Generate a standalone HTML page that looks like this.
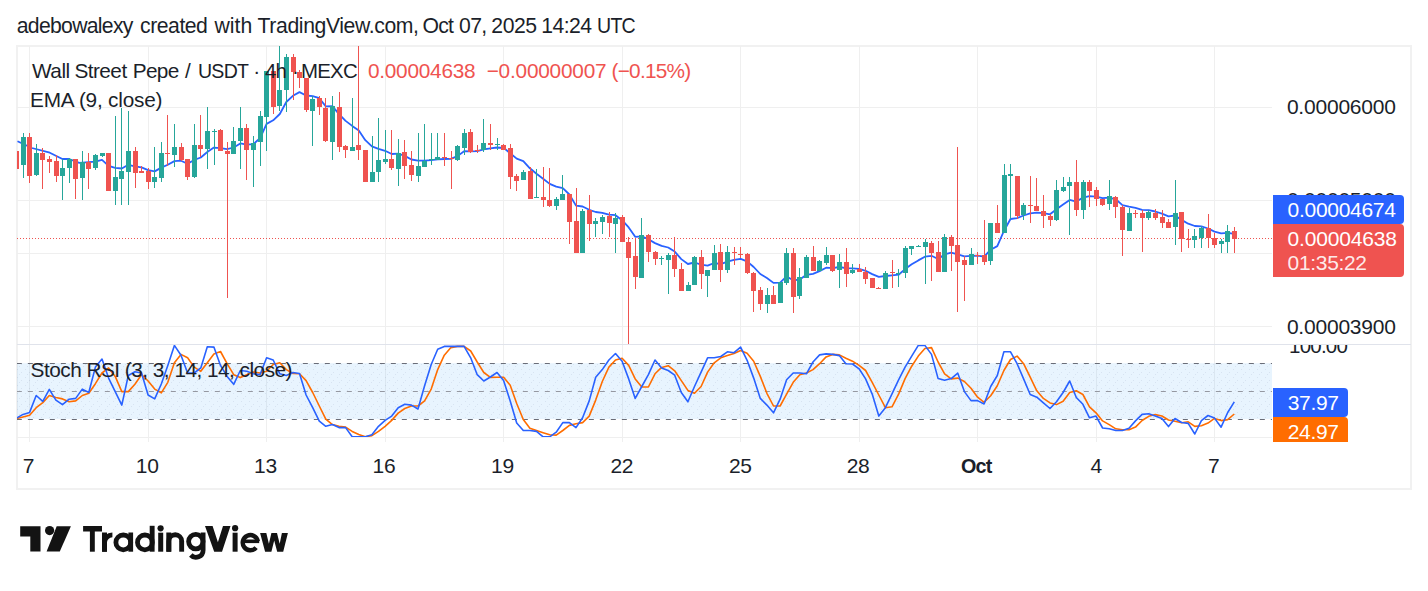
<!DOCTYPE html>
<html><head><meta charset="utf-8"><style>
*{margin:0;padding:0;box-sizing:border-box}
html,body{width:1428px;height:591px;overflow:hidden;background:#fff}
body{position:relative;font-family:"Liberation Sans",sans-serif;color:#1b1f2a}
.t{position:absolute;white-space:nowrap;line-height:1}
#frame{position:absolute;left:16px;top:45px;width:1396px;height:445px;border:2px solid #f1f1f1}
svg{position:absolute;left:0;top:0}
.pl{font-size:21px;left:1287.2px;letter-spacing:-0.2px}
.lab{position:absolute;left:1273px;width:131px;border-radius:0 4px 4px 0}
.tl{font-size:21px;top:454.7px;letter-spacing:-0.3px}
</style></head><body>
<div class="t" style="left:16.80px;top:15.05px;font-size:21.2px;letter-spacing:-0.710px">adebowalexy</div><div class="t" style="left:140.10px;top:15.05px;font-size:21.2px;letter-spacing:-0.483px">created</div><div class="t" style="left:214.40px;top:15.05px;font-size:21.2px;letter-spacing:0.067px">with</div><div class="t" style="left:257.60px;top:15.05px;font-size:21.2px;letter-spacing:-0.387px">TradingView.com,</div><div class="t" style="left:422.50px;top:15.05px;font-size:21.2px;letter-spacing:-0.750px">Oct</div><div class="t" style="left:459.00px;top:15.05px;font-size:21.2px;letter-spacing:-0.600px">07,</div><div class="t" style="left:491.30px;top:15.05px;font-size:21.2px;letter-spacing:-0.433px">2025</div><div class="t" style="left:541.30px;top:15.05px;font-size:21.2px;letter-spacing:-0.575px">14:24</div><div class="t" style="left:597.45px;top:15.05px;font-size:21.2px;letter-spacing:-0.800px;transform:scaleX(0.9239);transform-origin:0 0">UTC</div>
<div id="frame"></div>
<svg width="1428" height="591" viewBox="0 0 1428 591"><defs><clipPath id="cp"><rect x="17" y="46" width="1255" height="298.5"/></clipPath><clipPath id="cs"><rect x="17" y="344.5" width="1255" height="93"/></clipPath><pattern id="dots" width="8" height="8" patternUnits="userSpaceOnUse"><rect width="8" height="8" fill="rgba(33,150,243,0.1)"/><rect x="1" y="1" width="1" height="1" fill="rgba(90,110,150,0.12)"/><rect x="5" y="4" width="1" height="1" fill="rgba(90,110,150,0.12)"/><rect x="3" y="6" width="1" height="1" fill="rgba(90,110,150,0.12)"/></pattern></defs><rect x="17" y="107" width="1255" height="1" fill="#efefef"/><rect x="17" y="200" width="1255" height="1" fill="#efefef"/><rect x="17" y="253" width="1255" height="1" fill="#efefef"/><rect x="17" y="326" width="1255" height="1" fill="#efefef"/><rect x="29" y="46" width="1" height="392" fill="#efefef"/><rect x="148" y="46" width="1" height="392" fill="#efefef"/><rect x="266" y="46" width="1" height="392" fill="#efefef"/><rect x="385" y="46" width="1" height="392" fill="#efefef"/><rect x="503" y="46" width="1" height="392" fill="#efefef"/><rect x="622" y="46" width="1" height="392" fill="#efefef"/><rect x="740" y="46" width="1" height="392" fill="#efefef"/><rect x="859" y="46" width="1" height="392" fill="#efefef"/><rect x="977" y="46" width="1" height="392" fill="#efefef"/><rect x="1096" y="46" width="1" height="392" fill="#efefef"/><rect x="1214" y="46" width="1" height="392" fill="#efefef"/><rect x="17" y="363.2" width="1255" height="55.8" fill="url(#dots)"/><g clip-path="url(#cp)"><line x1="17" y1="238.5" x2="1272" y2="238.5" stroke="#ef5350" stroke-width="1" stroke-dasharray="1 2"/><path d="M17.5 141.3 L31.9 148.0 L48.8 152.3 L62.4 159.0 L69.1 159.0 L79.3 162.8 L95.4 161.6 L102.0 159.8 L108.6 165.8 L115.2 167.9 L121.8 168.5 L128.3 164.8 L134.9 166.3 L141.5 167.4 L148.1 170.1 L154.7 171.4 L161.3 167.6 L167.8 164.7 L174.4 161.1 L181.0 160.7 L187.6 163.8 L194.2 159.9 L200.8 157.5 L207.3 152.0 L213.9 147.6 L220.5 148.1 L227.1 149.2 L233.7 147.5 L240.3 143.4 L246.8 144.6 L253.4 144.1 L260.0 138.3 L266.6 123.9 L273.2 120.3 L279.8 114.0 L286.3 102.0 L292.9 95.8 L299.5 92.1 L306.1 95.5 L312.7 96.1 L319.3 98.2 L325.8 106.4 L332.4 106.2 L339.0 114.1 L345.6 120.9 L352.2 125.9 L358.8 130.4 L365.3 140.2 L371.9 146.3 L378.5 148.9 L385.1 150.8 L391.7 154.0 L398.2 153.7 L404.8 155.9 L411.4 159.5 L418.0 160.7 L424.6 160.6 L431.2 160.2 L437.7 159.4 L444.3 159.0 L450.9 158.9 L457.5 156.1 L464.1 151.2 L470.7 151.3 L477.2 151.2 L483.8 149.4 L490.4 148.4 L497.0 147.5 L503.6 147.8 L510.2 153.3 L516.7 158.6 L523.3 161.1 L529.9 168.3 L536.5 173.8 L543.1 178.7 L549.7 183.9 L556.2 186.7 L562.8 188.1 L569.4 194.5 L576.0 205.6 L582.6 206.5 L589.2 209.8 L595.7 212.0 L602.3 212.8 L608.9 214.7 L615.5 215.2 L622.1 220.2 L628.7 227.4 L635.2 236.8 L641.8 236.4 L648.4 239.3 L655.0 243.1 L661.6 245.9 L668.2 247.5 L674.7 251.6 L681.3 259.1 L687.9 264.0 L694.5 262.5 L701.1 264.7 L707.6 265.7 L714.2 263.0 L720.8 264.2 L727.4 261.6 L734.0 259.9 L740.6 258.8 L747.1 261.4 L753.7 267.0 L760.3 274.0 L766.9 278.0 L773.5 282.9 L780.1 282.6 L786.6 276.4 L793.2 280.3 L799.8 279.5 L806.4 274.8 L813.0 273.8 L819.6 271.1 L826.1 267.7 L832.7 268.2 L839.3 267.0 L845.9 268.2 L852.5 268.4 L859.1 268.9 L865.6 270.8 L872.2 274.1 L878.8 276.9 L885.4 276.0 L892.0 275.3 L898.6 274.7 L905.1 269.1 L911.7 264.3 L918.3 260.4 L924.9 256.7 L931.5 255.8 L938.1 259.0 L944.6 254.4 L951.2 252.6 L957.8 254.3 L964.4 256.3 L971.0 255.8 L977.6 255.7 L984.1 256.7 L990.7 249.7 L997.3 246.1 L1003.9 231.0 L1010.5 219.0 L1017.1 218.2 L1023.6 215.5 L1030.2 213.4 L1036.8 212.7 L1043.4 213.2 L1050.0 214.3 L1056.5 209.2 L1063.1 204.6 L1069.7 199.9 L1076.3 201.7 L1082.9 197.6 L1089.5 196.1 L1096.0 196.6 L1102.6 198.2 L1109.2 197.6 L1115.8 199.3 L1122.4 205.1 L1129.0 206.6 L1135.5 207.9 L1142.1 209.8 L1148.7 210.1 L1155.3 211.5 L1161.9 213.6 L1168.5 216.3 L1175.0 215.5 L1181.6 219.9 L1188.2 223.7 L1194.8 226.0 L1201.4 226.3 L1208.0 228.5 L1214.5 231.6 L1221.1 233.4 L1227.7 232.8 L1234.3 233.8" fill="none" stroke="#2962ff" stroke-width="1.8" stroke-linejoin="round"/><rect x="16" y="151" width="1" height="18" fill="#ef5350"/><rect x="14" y="151" width="5" height="18" fill="#ef5350"/><rect x="23" y="133" width="1" height="45" fill="#26a69a"/><rect x="21" y="137" width="5" height="28" fill="#26a69a"/><rect x="29" y="133" width="1" height="50" fill="#ef5350"/><rect x="27" y="137" width="5" height="39" fill="#ef5350"/><rect x="36" y="144" width="1" height="32" fill="#26a69a"/><rect x="34" y="153" width="5" height="22" fill="#26a69a"/><rect x="42" y="148" width="1" height="41" fill="#ef5350"/><rect x="40" y="153" width="5" height="7" fill="#ef5350"/><rect x="49" y="156" width="1" height="17" fill="#ef5350"/><rect x="47" y="159" width="5" height="3" fill="#ef5350"/><rect x="56" y="155" width="1" height="27" fill="#ef5350"/><rect x="54" y="161" width="5" height="15" fill="#ef5350"/><rect x="62" y="159" width="1" height="41" fill="#26a69a"/><rect x="60" y="168" width="5" height="8" fill="#26a69a"/><rect x="69" y="158" width="1" height="25" fill="#26a69a"/><rect x="67" y="159" width="5" height="9" fill="#26a69a"/><rect x="75" y="159" width="1" height="40" fill="#ef5350"/><rect x="73" y="159" width="5" height="20" fill="#ef5350"/><rect x="82" y="151" width="1" height="49" fill="#26a69a"/><rect x="80" y="162" width="5" height="16" fill="#26a69a"/><rect x="88" y="153" width="1" height="36" fill="#ef5350"/><rect x="86" y="162" width="5" height="7" fill="#ef5350"/><rect x="95" y="154" width="1" height="16" fill="#26a69a"/><rect x="93" y="155" width="5" height="13" fill="#26a69a"/><rect x="102" y="153" width="1" height="4" fill="#26a69a"/><rect x="100" y="153" width="5" height="3" fill="#26a69a"/><rect x="108" y="153" width="1" height="38" fill="#ef5350"/><rect x="106" y="153" width="5" height="38" fill="#ef5350"/><rect x="115" y="116" width="1" height="89" fill="#26a69a"/><rect x="113" y="177" width="5" height="14" fill="#26a69a"/><rect x="121" y="108" width="1" height="97" fill="#26a69a"/><rect x="119" y="171" width="5" height="8" fill="#26a69a"/><rect x="128" y="111" width="1" height="94" fill="#26a69a"/><rect x="126" y="151" width="5" height="21" fill="#26a69a"/><rect x="135" y="147" width="1" height="41" fill="#ef5350"/><rect x="133" y="151" width="5" height="22" fill="#ef5350"/><rect x="141" y="166" width="1" height="7" fill="#ef5350"/><rect x="139" y="171" width="5" height="2" fill="#ef5350"/><rect x="148" y="168" width="1" height="21" fill="#ef5350"/><rect x="146" y="171" width="5" height="11" fill="#ef5350"/><rect x="154" y="147" width="1" height="41" fill="#26a69a"/><rect x="152" y="177" width="5" height="5" fill="#26a69a"/><rect x="161" y="142" width="1" height="40" fill="#26a69a"/><rect x="159" y="153" width="5" height="25" fill="#26a69a"/><rect x="167" y="115" width="1" height="51" fill="#ef5350"/><rect x="165" y="153" width="5" height="1" fill="#ef5350"/><rect x="174" y="124" width="1" height="43" fill="#26a69a"/><rect x="172" y="147" width="5" height="8" fill="#26a69a"/><rect x="181" y="143" width="1" height="18" fill="#ef5350"/><rect x="179" y="147" width="5" height="13" fill="#ef5350"/><rect x="187" y="159" width="1" height="21" fill="#ef5350"/><rect x="185" y="159" width="5" height="18" fill="#ef5350"/><rect x="194" y="124" width="1" height="54" fill="#26a69a"/><rect x="192" y="145" width="5" height="32" fill="#26a69a"/><rect x="200" y="115" width="1" height="42" fill="#ef5350"/><rect x="198" y="145" width="5" height="4" fill="#ef5350"/><rect x="207" y="107" width="1" height="62" fill="#26a69a"/><rect x="205" y="131" width="5" height="18" fill="#26a69a"/><rect x="214" y="129" width="1" height="36" fill="#26a69a"/><rect x="212" y="131" width="5" height="1" fill="#26a69a"/><rect x="220" y="129" width="1" height="22" fill="#ef5350"/><rect x="218" y="130" width="5" height="21" fill="#ef5350"/><rect x="227" y="142" width="1" height="156" fill="#ef5350"/><rect x="225" y="151" width="5" height="3" fill="#ef5350"/><rect x="233" y="127" width="1" height="27" fill="#26a69a"/><rect x="231" y="141" width="5" height="13" fill="#26a69a"/><rect x="240" y="107" width="1" height="62" fill="#26a69a"/><rect x="238" y="128" width="5" height="13" fill="#26a69a"/><rect x="246" y="124" width="1" height="56" fill="#ef5350"/><rect x="244" y="128" width="5" height="22" fill="#ef5350"/><rect x="253" y="136" width="1" height="51" fill="#26a69a"/><rect x="251" y="143" width="5" height="7" fill="#26a69a"/><rect x="260" y="111" width="1" height="55" fill="#26a69a"/><rect x="258" y="116" width="5" height="26" fill="#26a69a"/><rect x="266" y="71" width="1" height="80" fill="#26a69a"/><rect x="264" y="71" width="5" height="46" fill="#26a69a"/><rect x="273" y="71" width="1" height="43" fill="#ef5350"/><rect x="271" y="71" width="5" height="36" fill="#ef5350"/><rect x="279" y="46" width="1" height="65" fill="#26a69a"/><rect x="277" y="90" width="5" height="16" fill="#26a69a"/><rect x="286" y="54" width="1" height="58" fill="#26a69a"/><rect x="284" y="57" width="5" height="33" fill="#26a69a"/><rect x="293" y="54" width="1" height="46" fill="#ef5350"/><rect x="291" y="57" width="5" height="15" fill="#ef5350"/><rect x="299" y="70" width="1" height="18" fill="#ef5350"/><rect x="297" y="72" width="5" height="6" fill="#ef5350"/><rect x="306" y="78" width="1" height="34" fill="#ef5350"/><rect x="304" y="78" width="5" height="32" fill="#ef5350"/><rect x="312" y="96" width="1" height="50" fill="#26a69a"/><rect x="310" y="99" width="5" height="12" fill="#26a69a"/><rect x="319" y="96" width="1" height="19" fill="#ef5350"/><rect x="317" y="98" width="5" height="9" fill="#ef5350"/><rect x="325" y="98" width="1" height="44" fill="#ef5350"/><rect x="323" y="108" width="5" height="33" fill="#ef5350"/><rect x="332" y="96" width="1" height="64" fill="#26a69a"/><rect x="330" y="106" width="5" height="36" fill="#26a69a"/><rect x="339" y="92" width="1" height="60" fill="#ef5350"/><rect x="337" y="107" width="5" height="40" fill="#ef5350"/><rect x="345" y="145" width="1" height="13" fill="#ef5350"/><rect x="343" y="146" width="5" height="4" fill="#ef5350"/><rect x="352" y="98" width="1" height="53" fill="#26a69a"/><rect x="350" y="147" width="5" height="4" fill="#26a69a"/><rect x="358" y="46" width="1" height="114" fill="#ef5350"/><rect x="356" y="145" width="5" height="5" fill="#ef5350"/><rect x="365" y="150" width="1" height="32" fill="#ef5350"/><rect x="363" y="150" width="5" height="32" fill="#ef5350"/><rect x="372" y="136" width="1" height="46" fill="#26a69a"/><rect x="370" y="172" width="5" height="10" fill="#26a69a"/><rect x="378" y="118" width="1" height="64" fill="#26a69a"/><rect x="376" y="160" width="5" height="12" fill="#26a69a"/><rect x="385" y="130" width="1" height="34" fill="#26a69a"/><rect x="383" y="159" width="5" height="3" fill="#26a69a"/><rect x="391" y="130" width="1" height="40" fill="#ef5350"/><rect x="389" y="159" width="5" height="9" fill="#ef5350"/><rect x="398" y="139" width="1" height="47" fill="#26a69a"/><rect x="396" y="153" width="5" height="16" fill="#26a69a"/><rect x="404" y="140" width="1" height="39" fill="#ef5350"/><rect x="402" y="152" width="5" height="14" fill="#ef5350"/><rect x="411" y="151" width="1" height="30" fill="#ef5350"/><rect x="409" y="165" width="5" height="10" fill="#ef5350"/><rect x="418" y="133" width="1" height="49" fill="#26a69a"/><rect x="416" y="166" width="5" height="10" fill="#26a69a"/><rect x="424" y="124" width="1" height="43" fill="#26a69a"/><rect x="422" y="161" width="5" height="6" fill="#26a69a"/><rect x="431" y="133" width="1" height="32" fill="#26a69a"/><rect x="429" y="159" width="5" height="1" fill="#26a69a"/><rect x="437" y="133" width="1" height="27" fill="#26a69a"/><rect x="435" y="157" width="5" height="3" fill="#26a69a"/><rect x="444" y="133" width="1" height="33" fill="#ef5350"/><rect x="442" y="157" width="5" height="1" fill="#ef5350"/><rect x="451" y="151" width="1" height="38" fill="#ef5350"/><rect x="449" y="158" width="5" height="1" fill="#ef5350"/><rect x="457" y="145" width="1" height="16" fill="#26a69a"/><rect x="455" y="146" width="5" height="14" fill="#26a69a"/><rect x="464" y="129" width="1" height="26" fill="#26a69a"/><rect x="462" y="133" width="5" height="15" fill="#26a69a"/><rect x="470" y="129" width="1" height="24" fill="#ef5350"/><rect x="468" y="132" width="5" height="20" fill="#ef5350"/><rect x="477" y="145" width="1" height="8" fill="#ef5350"/><rect x="475" y="150" width="5" height="1" fill="#ef5350"/><rect x="483" y="119" width="1" height="33" fill="#26a69a"/><rect x="481" y="143" width="5" height="7" fill="#26a69a"/><rect x="490" y="124" width="1" height="26" fill="#ef5350"/><rect x="488" y="143" width="5" height="2" fill="#ef5350"/><rect x="497" y="138" width="1" height="12" fill="#26a69a"/><rect x="495" y="144" width="5" height="1" fill="#26a69a"/><rect x="503" y="144" width="1" height="6" fill="#ef5350"/><rect x="501" y="145" width="5" height="5" fill="#ef5350"/><rect x="510" y="144" width="1" height="45" fill="#ef5350"/><rect x="508" y="148" width="5" height="29" fill="#ef5350"/><rect x="516" y="174" width="1" height="17" fill="#ef5350"/><rect x="514" y="176" width="5" height="5" fill="#ef5350"/><rect x="523" y="170" width="1" height="10" fill="#26a69a"/><rect x="521" y="172" width="5" height="8" fill="#26a69a"/><rect x="530" y="167" width="1" height="32" fill="#ef5350"/><rect x="528" y="171" width="5" height="28" fill="#ef5350"/><rect x="536" y="169" width="1" height="29" fill="#26a69a"/><rect x="534" y="197" width="5" height="1" fill="#26a69a"/><rect x="543" y="167" width="1" height="40" fill="#ef5350"/><rect x="541" y="197" width="5" height="3" fill="#ef5350"/><rect x="549" y="168" width="1" height="39" fill="#ef5350"/><rect x="547" y="200" width="5" height="6" fill="#ef5350"/><rect x="556" y="197" width="1" height="13" fill="#26a69a"/><rect x="554" y="199" width="5" height="7" fill="#26a69a"/><rect x="562" y="175" width="1" height="25" fill="#26a69a"/><rect x="560" y="194" width="5" height="6" fill="#26a69a"/><rect x="569" y="194" width="1" height="50" fill="#ef5350"/><rect x="567" y="194" width="5" height="28" fill="#ef5350"/><rect x="576" y="188" width="1" height="65" fill="#ef5350"/><rect x="574" y="221" width="5" height="32" fill="#ef5350"/><rect x="582" y="209" width="1" height="44" fill="#26a69a"/><rect x="580" y="211" width="5" height="42" fill="#26a69a"/><rect x="589" y="195" width="1" height="46" fill="#ef5350"/><rect x="587" y="210" width="5" height="14" fill="#ef5350"/><rect x="595" y="218" width="1" height="19" fill="#26a69a"/><rect x="593" y="221" width="5" height="3" fill="#26a69a"/><rect x="602" y="215" width="1" height="19" fill="#26a69a"/><rect x="600" y="217" width="5" height="5" fill="#26a69a"/><rect x="609" y="212" width="1" height="25" fill="#ef5350"/><rect x="607" y="216" width="5" height="7" fill="#ef5350"/><rect x="615" y="213" width="1" height="40" fill="#26a69a"/><rect x="613" y="218" width="5" height="6" fill="#26a69a"/><rect x="622" y="215" width="1" height="27" fill="#ef5350"/><rect x="620" y="217" width="5" height="25" fill="#ef5350"/><rect x="628" y="237" width="1" height="107" fill="#ef5350"/><rect x="626" y="242" width="5" height="16" fill="#ef5350"/><rect x="635" y="239" width="1" height="50" fill="#ef5350"/><rect x="633" y="256" width="5" height="21" fill="#ef5350"/><rect x="641" y="218" width="1" height="60" fill="#26a69a"/><rect x="639" y="235" width="5" height="43" fill="#26a69a"/><rect x="648" y="234" width="1" height="28" fill="#ef5350"/><rect x="646" y="235" width="5" height="17" fill="#ef5350"/><rect x="655" y="251" width="1" height="14" fill="#ef5350"/><rect x="653" y="252" width="5" height="7" fill="#ef5350"/><rect x="661" y="256" width="1" height="9" fill="#26a69a"/><rect x="659" y="258" width="5" height="1" fill="#26a69a"/><rect x="668" y="253" width="1" height="41" fill="#26a69a"/><rect x="666" y="255" width="5" height="5" fill="#26a69a"/><rect x="674" y="237" width="1" height="40" fill="#ef5350"/><rect x="672" y="255" width="5" height="14" fill="#ef5350"/><rect x="681" y="263" width="1" height="28" fill="#ef5350"/><rect x="679" y="269" width="5" height="22" fill="#ef5350"/><rect x="688" y="282" width="1" height="9" fill="#26a69a"/><rect x="686" y="285" width="5" height="6" fill="#26a69a"/><rect x="694" y="256" width="1" height="29" fill="#26a69a"/><rect x="692" y="257" width="5" height="28" fill="#26a69a"/><rect x="701" y="250" width="1" height="39" fill="#ef5350"/><rect x="699" y="257" width="5" height="17" fill="#ef5350"/><rect x="707" y="270" width="1" height="27" fill="#26a69a"/><rect x="705" y="270" width="5" height="6" fill="#26a69a"/><rect x="714" y="245" width="1" height="25" fill="#26a69a"/><rect x="712" y="253" width="5" height="17" fill="#26a69a"/><rect x="720" y="244" width="1" height="38" fill="#ef5350"/><rect x="718" y="252" width="5" height="18" fill="#ef5350"/><rect x="727" y="246" width="1" height="27" fill="#26a69a"/><rect x="725" y="252" width="5" height="18" fill="#26a69a"/><rect x="734" y="247" width="1" height="18" fill="#ef5350"/><rect x="732" y="252" width="5" height="1" fill="#ef5350"/><rect x="740" y="247" width="1" height="11" fill="#ef5350"/><rect x="738" y="254" width="5" height="1" fill="#ef5350"/><rect x="747" y="253" width="1" height="21" fill="#ef5350"/><rect x="745" y="254" width="5" height="19" fill="#ef5350"/><rect x="753" y="272" width="1" height="40" fill="#ef5350"/><rect x="751" y="273" width="5" height="18" fill="#ef5350"/><rect x="760" y="287" width="1" height="23" fill="#ef5350"/><rect x="758" y="290" width="5" height="14" fill="#ef5350"/><rect x="767" y="288" width="1" height="25" fill="#26a69a"/><rect x="765" y="295" width="5" height="9" fill="#26a69a"/><rect x="773" y="286" width="1" height="18" fill="#ef5350"/><rect x="771" y="295" width="5" height="9" fill="#ef5350"/><rect x="780" y="282" width="1" height="21" fill="#26a69a"/><rect x="778" y="282" width="5" height="21" fill="#26a69a"/><rect x="786" y="248" width="1" height="37" fill="#26a69a"/><rect x="784" y="253" width="5" height="30" fill="#26a69a"/><rect x="793" y="248" width="1" height="65" fill="#ef5350"/><rect x="791" y="253" width="5" height="44" fill="#ef5350"/><rect x="799" y="268" width="1" height="31" fill="#26a69a"/><rect x="797" y="277" width="5" height="19" fill="#26a69a"/><rect x="806" y="255" width="1" height="23" fill="#26a69a"/><rect x="804" y="257" width="5" height="21" fill="#26a69a"/><rect x="813" y="246" width="1" height="25" fill="#ef5350"/><rect x="811" y="257" width="5" height="14" fill="#ef5350"/><rect x="819" y="260" width="1" height="11" fill="#26a69a"/><rect x="817" y="261" width="5" height="10" fill="#26a69a"/><rect x="826" y="247" width="1" height="18" fill="#26a69a"/><rect x="824" y="255" width="5" height="8" fill="#26a69a"/><rect x="832" y="255" width="1" height="17" fill="#ef5350"/><rect x="830" y="255" width="5" height="16" fill="#ef5350"/><rect x="839" y="254" width="1" height="34" fill="#26a69a"/><rect x="837" y="262" width="5" height="8" fill="#26a69a"/><rect x="846" y="248" width="1" height="39" fill="#ef5350"/><rect x="844" y="262" width="5" height="12" fill="#ef5350"/><rect x="852" y="264" width="1" height="10" fill="#26a69a"/><rect x="850" y="270" width="5" height="3" fill="#26a69a"/><rect x="859" y="264" width="1" height="8" fill="#ef5350"/><rect x="857" y="269" width="5" height="3" fill="#ef5350"/><rect x="865" y="267" width="1" height="17" fill="#ef5350"/><rect x="863" y="272" width="5" height="7" fill="#ef5350"/><rect x="872" y="278" width="1" height="10" fill="#ef5350"/><rect x="870" y="278" width="5" height="10" fill="#ef5350"/><rect x="878" y="287" width="1" height="2" fill="#ef5350"/><rect x="876" y="288" width="5" height="1" fill="#ef5350"/><rect x="885" y="271" width="1" height="18" fill="#26a69a"/><rect x="883" y="273" width="5" height="16" fill="#26a69a"/><rect x="892" y="260" width="1" height="28" fill="#ef5350"/><rect x="890" y="272" width="5" height="1" fill="#ef5350"/><rect x="898" y="269" width="1" height="18" fill="#26a69a"/><rect x="896" y="273" width="5" height="1" fill="#26a69a"/><rect x="905" y="246" width="1" height="32" fill="#26a69a"/><rect x="903" y="248" width="5" height="25" fill="#26a69a"/><rect x="911" y="246" width="1" height="9" fill="#26a69a"/><rect x="909" y="246" width="5" height="3" fill="#26a69a"/><rect x="918" y="245" width="1" height="2" fill="#26a69a"/><rect x="916" y="246" width="5" height="1" fill="#26a69a"/><rect x="925" y="239" width="1" height="45" fill="#26a69a"/><rect x="923" y="242" width="5" height="5" fill="#26a69a"/><rect x="931" y="241" width="1" height="40" fill="#ef5350"/><rect x="929" y="243" width="5" height="10" fill="#ef5350"/><rect x="938" y="241" width="1" height="31" fill="#ef5350"/><rect x="936" y="252" width="5" height="20" fill="#ef5350"/><rect x="944" y="234" width="1" height="38" fill="#26a69a"/><rect x="942" y="237" width="5" height="35" fill="#26a69a"/><rect x="951" y="235" width="1" height="36" fill="#ef5350"/><rect x="949" y="237" width="5" height="9" fill="#ef5350"/><rect x="957" y="147" width="1" height="165" fill="#ef5350"/><rect x="955" y="245" width="5" height="17" fill="#ef5350"/><rect x="964" y="256" width="1" height="45" fill="#ef5350"/><rect x="962" y="260" width="5" height="5" fill="#ef5350"/><rect x="971" y="248" width="1" height="17" fill="#26a69a"/><rect x="969" y="254" width="5" height="11" fill="#26a69a"/><rect x="977" y="252" width="1" height="12" fill="#ef5350"/><rect x="975" y="255" width="5" height="1" fill="#ef5350"/><rect x="984" y="220" width="1" height="45" fill="#ef5350"/><rect x="982" y="255" width="5" height="7" fill="#ef5350"/><rect x="990" y="223" width="1" height="42" fill="#26a69a"/><rect x="988" y="223" width="5" height="38" fill="#26a69a"/><rect x="997" y="205" width="1" height="28" fill="#ef5350"/><rect x="995" y="223" width="5" height="10" fill="#ef5350"/><rect x="1004" y="164" width="1" height="69" fill="#26a69a"/><rect x="1002" y="175" width="5" height="58" fill="#26a69a"/><rect x="1010" y="164" width="1" height="55" fill="#26a69a"/><rect x="1008" y="174" width="5" height="2" fill="#26a69a"/><rect x="1017" y="176" width="1" height="43" fill="#ef5350"/><rect x="1015" y="176" width="5" height="40" fill="#ef5350"/><rect x="1023" y="203" width="1" height="17" fill="#26a69a"/><rect x="1021" y="205" width="5" height="10" fill="#26a69a"/><rect x="1030" y="176" width="1" height="47" fill="#ef5350"/><rect x="1028" y="205" width="5" height="1" fill="#ef5350"/><rect x="1036" y="178" width="1" height="33" fill="#ef5350"/><rect x="1034" y="206" width="5" height="5" fill="#ef5350"/><rect x="1043" y="195" width="1" height="33" fill="#ef5350"/><rect x="1041" y="211" width="5" height="5" fill="#ef5350"/><rect x="1050" y="214" width="1" height="12" fill="#ef5350"/><rect x="1048" y="216" width="5" height="4" fill="#ef5350"/><rect x="1056" y="180" width="1" height="41" fill="#26a69a"/><rect x="1054" y="190" width="5" height="30" fill="#26a69a"/><rect x="1063" y="177" width="1" height="15" fill="#26a69a"/><rect x="1061" y="187" width="5" height="4" fill="#26a69a"/><rect x="1069" y="177" width="1" height="58" fill="#26a69a"/><rect x="1067" y="182" width="5" height="4" fill="#26a69a"/><rect x="1076" y="160" width="1" height="56" fill="#ef5350"/><rect x="1074" y="182" width="5" height="28" fill="#ef5350"/><rect x="1083" y="180" width="1" height="39" fill="#26a69a"/><rect x="1081" y="182" width="5" height="28" fill="#26a69a"/><rect x="1089" y="180" width="1" height="27" fill="#ef5350"/><rect x="1087" y="182" width="5" height="9" fill="#ef5350"/><rect x="1096" y="187" width="1" height="19" fill="#ef5350"/><rect x="1094" y="190" width="5" height="9" fill="#ef5350"/><rect x="1102" y="199" width="1" height="7" fill="#ef5350"/><rect x="1100" y="199" width="5" height="6" fill="#ef5350"/><rect x="1109" y="180" width="1" height="30" fill="#26a69a"/><rect x="1107" y="196" width="5" height="8" fill="#26a69a"/><rect x="1115" y="196" width="1" height="22" fill="#ef5350"/><rect x="1113" y="197" width="5" height="10" fill="#ef5350"/><rect x="1122" y="205" width="1" height="51" fill="#ef5350"/><rect x="1120" y="207" width="5" height="23" fill="#ef5350"/><rect x="1129" y="208" width="1" height="23" fill="#26a69a"/><rect x="1127" y="213" width="5" height="18" fill="#26a69a"/><rect x="1135" y="210" width="1" height="8" fill="#ef5350"/><rect x="1133" y="213" width="5" height="1" fill="#ef5350"/><rect x="1142" y="210" width="1" height="42" fill="#ef5350"/><rect x="1140" y="213" width="5" height="5" fill="#ef5350"/><rect x="1148" y="210" width="1" height="10" fill="#26a69a"/><rect x="1146" y="212" width="5" height="6" fill="#26a69a"/><rect x="1155" y="209" width="1" height="11" fill="#ef5350"/><rect x="1153" y="213" width="5" height="5" fill="#ef5350"/><rect x="1162" y="210" width="1" height="18" fill="#ef5350"/><rect x="1160" y="217" width="5" height="6" fill="#ef5350"/><rect x="1168" y="219" width="1" height="9" fill="#ef5350"/><rect x="1166" y="222" width="5" height="6" fill="#ef5350"/><rect x="1175" y="180" width="1" height="65" fill="#26a69a"/><rect x="1173" y="213" width="5" height="14" fill="#26a69a"/><rect x="1181" y="212" width="1" height="40" fill="#ef5350"/><rect x="1179" y="212" width="5" height="27" fill="#ef5350"/><rect x="1188" y="229" width="1" height="19" fill="#ef5350"/><rect x="1186" y="239" width="5" height="1" fill="#ef5350"/><rect x="1194" y="229" width="1" height="19" fill="#26a69a"/><rect x="1192" y="236" width="5" height="4" fill="#26a69a"/><rect x="1201" y="226" width="1" height="22" fill="#26a69a"/><rect x="1199" y="228" width="5" height="10" fill="#26a69a"/><rect x="1208" y="214" width="1" height="34" fill="#ef5350"/><rect x="1206" y="228" width="5" height="10" fill="#ef5350"/><rect x="1214" y="233" width="1" height="15" fill="#ef5350"/><rect x="1212" y="238" width="5" height="7" fill="#ef5350"/><rect x="1221" y="239" width="1" height="14" fill="#26a69a"/><rect x="1219" y="241" width="5" height="3" fill="#26a69a"/><rect x="1227" y="225" width="1" height="28" fill="#26a69a"/><rect x="1225" y="231" width="5" height="11" fill="#26a69a"/><rect x="1234" y="227" width="1" height="26" fill="#ef5350"/><rect x="1232" y="231" width="5" height="8" fill="#ef5350"/></g><line x1="17" y1="363.5" x2="1272" y2="363.5" stroke="#6a6d78" stroke-width="1" stroke-dasharray="5 6" stroke-dashoffset="0.16"/><line x1="17" y1="391.5" x2="1272" y2="391.5" stroke="#9598a1" stroke-width="1" stroke-dasharray="5 6" stroke-dashoffset="0.16"/><line x1="17" y1="419.5" x2="1272" y2="419.5" stroke="#6a6d78" stroke-width="1" stroke-dasharray="5 6" stroke-dashoffset="0.16"/><g clip-path="url(#cs)"><path d="M16.4 418.7 L23.0 417.0 L29.6 415.3 L36.2 407.7 L42.8 402.6 L49.3 395.5 L55.9 397.5 L62.5 398.9 L69.1 401.8 L75.7 400.9 L82.3 395.5 L88.8 393.3 L95.4 383.7 L102.0 373.0 L108.6 367.9 L115.2 376.4 L121.8 391.6 L128.3 391.6 L134.9 384.3 L141.5 374.7 L148.1 381.0 L154.7 389.1 L161.3 392.8 L167.8 382.3 L174.4 362.8 L181.0 354.4 L187.6 357.8 L194.2 367.1 L200.8 371.3 L207.3 362.8 L213.9 353.9 L220.5 351.5 L227.1 363.7 L233.7 374.7 L240.3 377.6 L246.8 374.7 L253.4 372.1 L260.0 373.0 L266.6 371.3 L273.2 364.5 L279.8 362.8 L286.3 369.6 L292.9 373.5 L299.5 373.8 L306.1 380.6 L312.7 392.5 L319.3 406.0 L325.8 419.2 L332.4 424.6 L339.0 426.3 L345.6 427.1 L352.2 431.4 L358.8 434.4 L365.3 436.8 L371.9 435.6 L378.5 431.4 L385.1 426.3 L391.7 420.4 L398.2 413.1 L404.8 408.5 L411.4 406.0 L418.0 406.0 L424.6 400.9 L431.2 389.1 L437.7 369.6 L444.3 355.2 L450.9 347.6 L457.5 346.4 L464.1 346.4 L470.7 351.0 L477.2 362.0 L483.8 372.5 L490.4 377.4 L497.0 377.2 L503.6 377.2 L510.2 385.3 L516.7 403.5 L523.3 419.5 L529.9 428.3 L536.5 430.5 L543.1 432.7 L549.7 434.8 L556.2 435.1 L562.8 430.5 L569.4 425.4 L576.0 423.8 L582.6 422.6 L589.2 416.1 L595.7 400.1 L602.3 381.5 L608.9 367.1 L615.5 360.0 L622.1 358.3 L628.7 365.4 L635.2 378.9 L641.8 387.0 L648.4 387.0 L655.0 373.8 L661.6 367.4 L668.2 365.7 L674.7 370.8 L681.3 380.6 L687.9 390.4 L694.5 393.3 L701.1 386.5 L707.6 372.1 L714.2 362.8 L720.8 357.8 L727.4 355.6 L734.0 353.5 L740.6 350.5 L747.1 353.2 L753.7 361.2 L760.3 376.4 L766.9 393.3 L773.5 406.0 L780.1 406.0 L786.6 394.1 L793.2 382.3 L799.8 374.7 L806.4 373.0 L813.0 369.6 L819.6 363.7 L826.1 356.9 L832.7 354.4 L839.3 354.9 L845.9 358.3 L852.5 361.2 L859.1 365.4 L865.6 370.5 L872.2 382.3 L878.8 395.0 L885.4 407.7 L892.0 406.8 L898.6 394.1 L905.1 378.6 L911.7 366.2 L918.3 356.1 L924.9 348.5 L931.5 347.6 L938.1 362.0 L944.6 373.8 L951.2 378.9 L957.8 378.1 L964.4 381.5 L971.0 388.2 L977.6 397.2 L984.1 402.3 L990.7 395.8 L997.3 385.7 L1003.9 370.5 L1010.5 359.5 L1017.1 356.1 L1023.6 363.7 L1030.2 377.2 L1036.8 390.8 L1043.4 398.4 L1050.0 402.9 L1056.5 404.6 L1063.1 401.3 L1069.7 392.5 L1076.3 390.8 L1082.9 394.5 L1089.5 406.8 L1096.0 412.8 L1102.6 420.9 L1109.2 424.6 L1115.8 428.8 L1122.4 429.7 L1129.0 429.7 L1135.5 427.1 L1142.1 420.5 L1148.7 416.3 L1155.3 414.6 L1161.9 416.0 L1168.5 420.0 L1175.0 421.3 L1181.6 422.7 L1188.2 421.8 L1194.8 426.4 L1201.4 425.7 L1208.0 423.1 L1214.5 418.4 L1221.1 420.6 L1227.7 419.6 L1234.3 414.0" fill="none" stroke="#ff6d00" stroke-width="1.6" stroke-linejoin="round"/><path d="M16.4 418.2 L23.0 414.4 L29.6 412.4 L36.2 395.5 L42.8 401.3 L49.3 389.4 L55.9 400.1 L62.5 404.6 L69.1 399.2 L75.7 398.4 L82.3 389.1 L88.8 392.5 L95.4 367.1 L102.0 359.0 L108.6 378.1 L115.2 391.6 L121.8 405.1 L128.3 375.5 L134.9 371.8 L141.5 373.0 L148.1 395.0 L154.7 398.9 L161.3 384.0 L167.8 365.4 L174.4 345.4 L181.0 355.2 L187.6 373.0 L194.2 373.0 L200.8 367.9 L207.3 346.8 L213.9 347.1 L220.5 365.4 L227.1 376.4 L233.7 384.3 L240.3 370.5 L246.8 371.3 L253.4 373.8 L260.0 374.7 L266.6 357.8 L273.2 360.0 L279.8 373.8 L286.3 375.5 L292.9 372.5 L299.5 373.5 L306.1 395.0 L312.7 407.7 L319.3 421.2 L325.8 426.3 L332.4 424.6 L339.0 427.6 L345.6 427.6 L352.2 436.8 L358.8 436.8 L365.3 436.8 L371.9 434.8 L378.5 426.3 L385.1 420.4 L391.7 416.1 L398.2 407.7 L404.8 404.3 L411.4 405.1 L418.0 409.0 L424.6 385.7 L431.2 364.5 L437.7 349.3 L444.3 346.4 L450.9 346.4 L457.5 346.4 L464.1 346.4 L470.7 357.8 L477.2 374.7 L483.8 381.0 L490.4 377.0 L497.0 372.5 L503.6 380.6 L510.2 400.9 L516.7 422.9 L523.3 430.5 L529.9 430.5 L536.5 431.4 L543.1 436.8 L549.7 436.8 L556.2 432.2 L562.8 422.6 L569.4 422.6 L576.0 427.6 L582.6 417.8 L589.2 400.9 L595.7 377.2 L602.3 369.6 L608.9 360.0 L615.5 353.5 L622.1 361.2 L628.7 378.9 L635.2 398.4 L641.8 386.5 L648.4 374.7 L655.0 360.0 L661.6 367.9 L668.2 370.5 L674.7 375.2 L681.3 392.5 L687.9 401.8 L694.5 386.5 L701.1 372.1 L707.6 357.8 L714.2 357.8 L720.8 356.5 L727.4 351.8 L734.0 352.7 L740.6 347.1 L747.1 360.3 L753.7 378.1 L760.3 398.4 L766.9 405.1 L773.5 412.8 L780.1 399.2 L786.6 379.8 L793.2 373.0 L799.8 373.0 L806.4 373.8 L813.0 362.0 L819.6 354.9 L826.1 353.9 L832.7 354.4 L839.3 355.6 L845.9 363.7 L852.5 364.0 L859.1 368.8 L865.6 378.9 L872.2 394.1 L878.8 416.1 L885.4 407.7 L892.0 393.8 L898.6 379.8 L905.1 367.1 L911.7 356.1 L918.3 345.4 L924.9 345.4 L931.5 354.4 L938.1 378.6 L944.6 380.3 L951.2 378.6 L957.8 373.2 L964.4 391.6 L971.0 400.6 L977.6 400.6 L984.1 404.0 L990.7 386.5 L997.3 375.5 L1003.9 351.8 L1010.5 351.8 L1017.1 363.7 L1023.6 378.9 L1030.2 394.5 L1036.8 397.2 L1043.4 402.9 L1050.0 408.5 L1056.5 401.8 L1063.1 392.5 L1069.7 381.0 L1076.3 397.5 L1082.9 404.3 L1089.5 417.8 L1096.0 416.1 L1102.6 428.0 L1109.2 428.8 L1115.8 430.5 L1122.4 430.5 L1129.0 428.3 L1135.5 420.9 L1142.1 414.4 L1148.7 413.8 L1155.3 415.9 L1161.9 418.6 L1168.5 426.6 L1175.0 418.5 L1181.6 422.5 L1188.2 423.4 L1194.8 434.0 L1201.4 420.6 L1208.0 415.5 L1214.5 418.1 L1221.1 427.2 L1227.7 412.5 L1234.3 401.8" fill="none" stroke="#2962ff" stroke-width="1.6" stroke-linejoin="round"/></g><rect x="17" y="344" width="1394" height="1" fill="#e0e3eb"/><rect x="17" y="437" width="1255" height="1" fill="#efefef"/><rect x="29" y="438" width="1" height="4" fill="#efefef"/><rect x="148" y="438" width="1" height="4" fill="#efefef"/><rect x="266" y="438" width="1" height="4" fill="#efefef"/><rect x="385" y="438" width="1" height="4" fill="#efefef"/><rect x="503" y="438" width="1" height="4" fill="#efefef"/><rect x="622" y="438" width="1" height="4" fill="#efefef"/><rect x="740" y="438" width="1" height="4" fill="#efefef"/><rect x="859" y="438" width="1" height="4" fill="#efefef"/><rect x="977" y="438" width="1" height="4" fill="#efefef"/><rect x="1096" y="438" width="1" height="4" fill="#efefef"/><rect x="1214" y="438" width="1" height="4" fill="#efefef"/></svg>
<div class="t" style="left:31.90px;top:61.29px;font-size:20.8px;letter-spacing:-0.467px">Wall</div><div class="t" style="left:74.40px;top:61.29px;font-size:20.8px;letter-spacing:-0.540px">Street</div><div class="t" style="left:132.70px;top:61.29px;font-size:20.8px;letter-spacing:-0.633px">Pepe</div><div class="t" style="left:185.10px;top:61.29px;font-size:20.8px;letter-spacing:0.000px">/</div><div class="t" style="left:197.52px;top:61.29px;font-size:20.8px;letter-spacing:-0.800px;transform:scaleX(0.9399);transform-origin:0 0">USDT</div><div class="t" style="left:253.30px;top:61.29px;font-size:20.8px;letter-spacing:0.000px">·</div><div class="t" style="left:265.00px;top:61.29px;font-size:20.8px;letter-spacing:-0.800px;transform:scaleX(0.9811);transform-origin:0 0">4h</div><div class="t" style="left:292.00px;top:61.29px;font-size:20.8px;letter-spacing:0.000px">·</div><div class="t" style="left:301.44px;top:61.29px;font-size:20.8px;letter-spacing:-0.800px;transform:scaleX(0.9817);transform-origin:0 0">MEXC</div>
<div class="t" style="left:367.90px;top:61.19px;font-size:20.8px;letter-spacing:-0.233px;color:#ef5350">0.00004638</div><div class="t" style="left:486.70px;top:61.19px;font-size:20.8px;letter-spacing:-0.210px;color:#ef5350">−0.00000007</div><div class="t" style="left:611.50px;top:61.19px;font-size:20.8px;letter-spacing:-0.743px;color:#ef5350">(−0.15%)</div>
<div class="t" style="left:30.10px;top:89.79px;font-size:20.8px;letter-spacing:-0.223px">EMA (9, close)</div>
<div class="t" style="left:30.60px;top:359.99px;font-size:20.8px;letter-spacing:-0.517px">Stoch RSI (3, 3, 14, 14, close)</div>
<div class="t" style="left:1286.90px;top:95.92px;font-size:21px;letter-spacing:-0.211px">0.00006000</div>
<div class="t" style="left:1286.90px;top:189.02px;font-size:21px;letter-spacing:-0.211px">0.00005000</div>
<div class="t" style="left:1286.90px;top:316.22px;font-size:21px;letter-spacing:-0.211px">0.00003900</div>
<div style="position:absolute;left:0;top:344.5px;width:1411px;height:93px;overflow:hidden"><div class="t" style="left:1289.44px;top:-9.58px;font-size:21px;letter-spacing:-0.800px;transform:scaleX(0.9776);transform-origin:0 0">100.00</div></div>
<div class="lab" style="top:195px;height:28.8px;background:#2962ff"></div>
<div class="t" style="left:1287.60px;top:199.32px;font-size:21px;letter-spacing:-0.289px;color:#fff">0.00004674</div>
<div class="lab" style="top:224.2px;height:52.6px;background:#ef5350"></div>
<div class="t" style="left:1287.60px;top:227.82px;font-size:21px;letter-spacing:-0.178px;color:#fff">0.00004638</div>
<div class="t" style="left:1287.60px;top:251.72px;font-size:21px;letter-spacing:-0.329px;color:rgba(255,255,255,.9)">01:35:22</div>
<div class="lab" style="top:388px;height:29px;width:75px;background:#2962ff"></div>
<div class="t" style="left:1287.70px;top:391.92px;font-size:21px;letter-spacing:-0.300px;color:#fff">37.97</div>
<div class="lab" style="top:417.2px;height:24.6px;width:75px;background:#ff6d00;border-radius:0 4px 0 0"></div>
<div class="t" style="left:1287.70px;top:420.72px;font-size:21px;letter-spacing:-0.300px;color:#fff">24.97</div>
<div class="t" style="left:22.70px;top:455.22px;font-size:21px;letter-spacing:0.000px">7</div><div class="t" style="left:135.70px;top:455.22px;font-size:21px;letter-spacing:-0.200px">10</div><div class="t" style="left:254.00px;top:455.22px;font-size:21px;letter-spacing:-0.200px">13</div><div class="t" style="left:372.60px;top:455.22px;font-size:21px;letter-spacing:-0.200px">16</div><div class="t" style="left:491.10px;top:455.22px;font-size:21px;letter-spacing:-0.200px">19</div><div class="t" style="left:610.60px;top:455.22px;font-size:21px;letter-spacing:-0.400px">22</div><div class="t" style="left:729.10px;top:455.22px;font-size:21px;letter-spacing:-0.400px">25</div><div class="t" style="left:846.80px;top:455.22px;font-size:21px;letter-spacing:-0.400px">28</div><div class="t" style="left:961.06px;top:455.22px;font-size:21px;letter-spacing:-0.800px;font-weight:bold;transform:scaleX(0.9414);transform-origin:0 0">Oct</div><div class="t" style="left:1090.60px;top:455.22px;font-size:21px;letter-spacing:0.000px">4</div><div class="t" style="left:1208.00px;top:455.22px;font-size:21px;letter-spacing:0.000px">7</div>
<svg width="300" height="80" style="top:510px" viewBox="0 510 300 80">
<g fill="#131313">
<path d="M20.2 526.2 H40.5 V551.6 H30.3 V536.4 H20.2 Z"/>
<circle cx="49.6" cy="530.6" r="4.6"/>
<path d="M56.7 526.2 H70.9 L59.8 551.6 H46.6 Z"/>
<rect x="83.1" y="526" width="18.9" height="5.5"/>
<rect x="89.9" y="526" width="4.9" height="25.7"/>
<rect x="102" y="532.5" width="5" height="19.2"/>
<rect x="128.4" y="532.5" width="4.7" height="19.2"/>
<rect x="149.7" y="525.8" width="4.9" height="25.9"/>
<rect x="158.2" y="532.7" width="5" height="19"/>
<circle cx="160.6" cy="528.3" r="3.1"/>
<rect x="166.3" y="532.5" width="5" height="19.2"/>
<rect x="179.2" y="541" width="4.9" height="10.7"/>
<rect x="232.6" y="532.7" width="5" height="19"/>
<circle cx="235.1" cy="528.2" r="3.1"/>
<path d="M205 526 H212.6 L217.9 542.3 L223 526 H230.5 L222 551.7 H214.2 Z"/>
<path d="M260.1 532.9 H266.3 L268.9 543.8 L271.4 532.9 H277 L279.7 543.8 L281.9 532.9 H287.9 L283.2 551.7 H277.2 L274.2 540.6 L271.4 551.7 H265.1 Z"/>
<rect x="243.2" y="539.5" width="16" height="3.6"/>
</g>
<g fill="none" stroke="#131313" stroke-width="4.8">
<path d="M104.5 551.7 V542.8 A7.9 7.9 0 0 1 112.4 534.9"/>
<circle cx="123.3" cy="542.4" r="7.4"/>
<circle cx="144.9" cy="542.4" r="7.4"/>
<path d="M168.8 551.7 V541.2 A6.45 6.45 0 0 1 181.7 541.2"/>
<circle cx="195.8" cy="541.6" r="7.2"/>
<path d="M203.1 532.5 V550.2 A7.1 7.1 0 0 1 190.8 555"/>
<path d="M257.8 541.3 A7.6 7.6 0 1 0 256.1 547.6" stroke-width="4.4"/>
</g>
</svg>
</body></html>
